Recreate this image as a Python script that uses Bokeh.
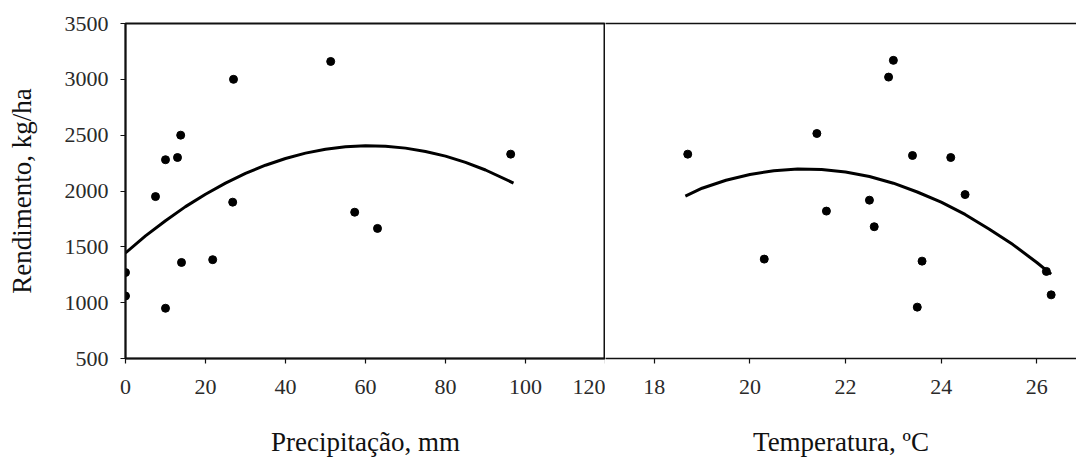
from bokeh.plotting import figure
from bokeh.layouts import row
from bokeh.models import FixedTicker, LinearAxis, Range1d
from bokeh.embed import file_html
from bokeh.resources import INLINE

# --- data ---
precip_mm = [0, 0, 7.5, 10, 10, 13, 13.8, 14, 21.8, 26.8, 27, 51.3, 57.3, 63, 96.3]
precip_yield = [1270, 1060, 1950, 2280, 950, 2300, 2500, 1360, 1385, 1900, 3000, 3160, 1810, 1665, 2330]

temp_c = [18.7, 20.3, 21.4, 21.6, 22.5, 22.6, 22.9, 23.0, 23.4, 23.5, 23.6, 24.2, 24.5, 26.2, 26.3]
temp_yield = [2330, 1390, 2515, 1820, 1918, 1680, 3020, 3170, 2318, 960, 1372, 2300, 1968, 1280, 1070]

precip_curve_x = [0, 5, 10, 15, 20, 25, 30, 35, 40, 45, 50, 55, 60, 65, 70, 75, 80, 85, 90, 97]
precip_curve_y = [1445, 1598, 1734, 1860, 1971, 2070, 2157, 2231, 2291, 2339, 2374, 2396, 2405, 2401, 2384,
                  2354, 2312, 2256, 2188, 2071]

temp_curve_x = [18.65, 19.0, 19.5, 20.0, 20.5, 21.0, 21.5, 22.0, 22.5, 23.0, 23.5, 24.0, 24.5, 25.0, 25.5, 26.0, 26.3]
temp_curve_y = [1955, 2025, 2096, 2148, 2182, 2197, 2193, 2171, 2130, 2070, 1991, 1900, 1790, 1660, 1520, 1360, 1255]

y_ticks = [500, 1000, 1500, 2000, 2500, 3000, 3500]
precip_ticks = [0, 20, 40, 60, 80, 100, 120]
temp_ticks = [18, 20, 22, 24, 26]

FONT = "Liberation Serif"
TICK_SIZE = "22px"
TITLE_SIZE = "27px"
TOP, BOTTOM = 23, 101
H = 459


def style_axis(ax, standoff, title_standoff, title_size=TITLE_SIZE):
    ax.axis_line_color = "#111111"
    ax.axis_line_width = 1.6
    ax.major_tick_line_color = "#111111"
    ax.major_tick_line_width = 1.2
    ax.major_tick_out = 5
    ax.major_tick_in = 0
    ax.minor_tick_line_color = None
    ax.major_label_text_font = FONT
    ax.major_label_text_font_size = TICK_SIZE
    ax.major_label_text_color = "#2a2a2a"
    ax.major_label_standoff = standoff
    ax.axis_label_text_font = FONT
    ax.axis_label_text_font_size = title_size
    ax.axis_label_text_font_style = "normal"
    ax.axis_label_text_color = "#111111"
    ax.axis_label_standoff = title_standoff


p1 = figure(width=605, height=H, output_backend="svg", toolbar_location=None,
            x_range=Range1d(0, 120), y_range=Range1d(500, 3500),
            min_border_left=125, min_border_right=0, min_border_top=TOP, min_border_bottom=BOTTOM)
p1.grid.visible = False
p1.outline_line_color = "#111111"
p1.outline_line_width = 2
p1.xaxis.ticker = FixedTicker(ticks=precip_ticks)
p1.yaxis.ticker = FixedTicker(ticks=y_ticks)
p1.xaxis.axis_label = "Precipitação, mm"
p1.yaxis.axis_label = "Rendimento, kg/ha"
style_axis(p1.xaxis[0], 16, 30)
style_axis(p1.yaxis[0], 12, 25)
p1.line(precip_curve_x, precip_curve_y, line_color="black", line_width=3)
p1.scatter(precip_mm, precip_yield, size=8, color="black")

p2 = figure(width=471, height=H, output_backend="svg", toolbar_location=None,
            x_range=Range1d(16.98, 26.83), y_range=Range1d(500, 3500),
            y_axis_location=None,
            min_border_left=0, min_border_right=0, min_border_top=TOP, min_border_bottom=BOTTOM)
p2.grid.visible = False
p2.outline_line_color = None
p2.xaxis.ticker = FixedTicker(ticks=temp_ticks)
p2.xaxis.axis_label = "Temperatura, ºC"
style_axis(p2.xaxis[0], 16, 30)
top_axis = LinearAxis(ticker=FixedTicker(ticks=[]), major_label_text_font_size="0px",
                      axis_line_color="#111111", axis_line_width=1.6,
                      major_tick_line_color=None, minor_tick_line_color=None)
p2.add_layout(top_axis, "above")
p2.line(temp_curve_x, temp_curve_y, line_color="black", line_width=3)
p2.scatter(temp_c, temp_yield, size=8, color="black")

layout = row(p1, p2)
open("out.html", "w").write(file_html(layout, INLINE))
